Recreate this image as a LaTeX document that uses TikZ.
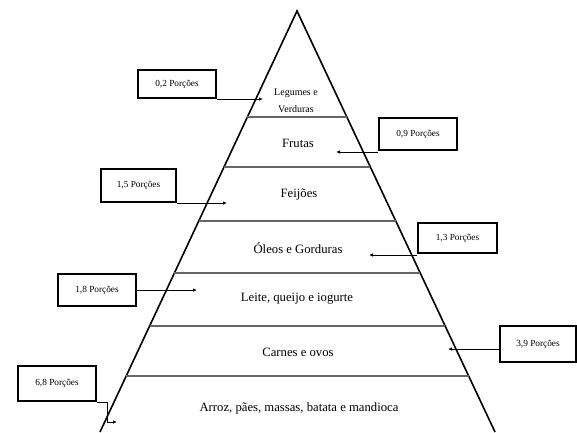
\documentclass[tikz,border=0pt]{standalone}
\usepackage{fontspec}
\setmainfont{Liberation Serif}
\usetikzlibrary{arrows.meta,calc}

\begin{document}
\begin{tikzpicture}[x=1pt,y=-1pt]
        \useasboundingbox (0,0) rectangle (577,432);

        \coordinate (apex) at (297,11);
        \coordinate (bl)   at (100,432);
        \coordinate (br)   at (495,432);

        \draw[line width=1.6pt] (bl) -- (apex) -- (br);

        \foreach \t in {0.2518,0.3705,0.4988,0.6223,0.7482,0.8670}
          \draw[black!60, line width=1.1pt] ($(apex)!\t!(bl)$) -- ($(apex)!\t!(br)$);

        \begin{scope}[every node/.style={font=\fontsize{12.7}{15}\selectfont}]
          \node[align=center, font=\fontsize{10}{17}\selectfont] (leg) at (296,101) {Legumes e\\Verduras};
          \node (fru) at (298,143) {Frutas};
          \node (fei) at (299,195) {Feijões};
          \node (ole) at (298,248) {Óleos e Gorduras};
          \node (lei) at (297,299) {Leite, queijo e iogurte};
          \node (car) at (298,352) {Carnes e ovos};
          \node (arr) at (299,408) {Arroz, pães, massas, batata e mandioca};
        \end{scope}

        \begin{scope}[every node/.style={draw, line width=2pt, inner sep=0pt,
            minimum width=78pt, minimum height=32pt, font=\fontsize{9.3}{11}\selectfont}]
          \node (b02) at (177,84)    [minimum height=28pt] {0,2 Porções};
          \node (b09) at (418,134)   {0,9 Porções};
          \node (b15) at (138.5,185.5) [minimum width=75pt, minimum height=33pt] {1,5 Porções};
          \node (b13) at (457.5,238) [minimum width=79pt, minimum height=30pt] {1,3 Porções};
          \node (b18) at (97,290)    {1,8 Porções};
          \node (b39) at (538,344)   [minimum width=76pt, minimum height=36pt] {3,9 Porções};
          \node (b68) at (57,383.5)  [minimum height=35pt] {6,8 Porções};
        \end{scope}

        \coordinate (t02) at (263,99);
        \coordinate (t09) at (336,152);
        \coordinate (t15) at (227,203);
        \coordinate (t13) at (369,255);
        \coordinate (t18) at (197,290);
        \coordinate (t39) at (448,349);
        \coordinate (t68) at (117,422);

        \begin{scope}[every path/.style={draw, line width=0.8pt, -{Latex[length=4pt,width=3.5pt]}}]
          \path (b02.east |- t02) -- (t02);
          \path (b09.west |- t09) -- (t09);
          \path (b15.east |- t15) -- (t15);
          \path (b13.west |- t13) -- (t13);
          \path (b18.east) -- (t18);
          \path (b39.west |- t39) -- (t39);
          \path (b68.south east) -- ++(10,0) |- (t68);
        \end{scope}

      \end{tikzpicture}
\end{document}
